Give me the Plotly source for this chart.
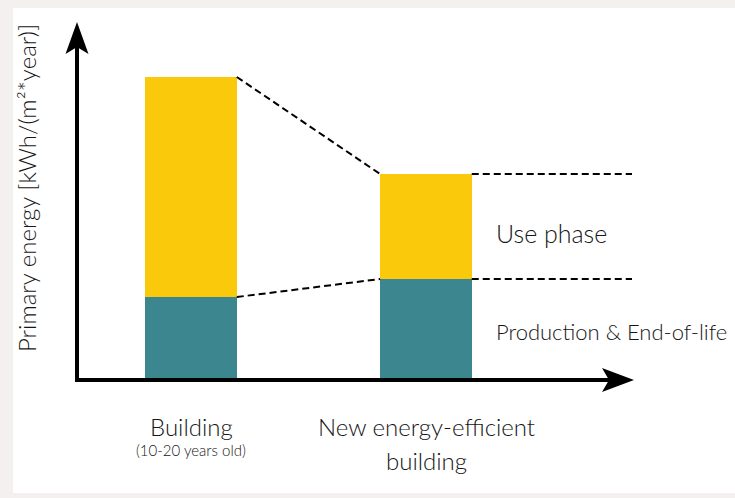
import plotly.graph_objects as go

categories = ["Building", "New energy-efficient building"]
production_eol = [83, 101]
use_phase = [220, 105]
bar_width = 0.39

W, H = 735, 498
L, R, T, B = 77, 103, 25, 118  # plot area 77..632 x, 25..380 y
PW, PH = W - L - R, H - T - B

def px(x, y):
    return (x - L) / PW, (H - B - y) / PH

teal = "#3b868f"
yellow = "#fbc90b"
font = "Lato"
txt = "#161616"

xs = list(range(len(categories)))
totals = [p + u for p, u in zip(production_eol, use_phase)]

fig = go.Figure()
fig.add_trace(go.Bar(x=xs, y=production_eol, width=bar_width, marker=dict(color=teal, line=dict(width=0)),
                     name="Production & End-of-life", hoverinfo="skip"))
fig.add_trace(go.Bar(x=xs, y=use_phase, width=bar_width, marker=dict(color=yellow, line=dict(width=0)),
                     name="Use phase", hoverinfo="skip"))

xmin = -0.485
xmax = 1.877
dash = dict(color="black", width=2, dash="7px,4px")
for series in (totals, production_eol):
    fig.add_trace(go.Scatter(x=[xs[0] + bar_width / 2, xs[1] - bar_width / 2], y=series, mode="lines",
                             line=dash, hoverinfo="skip", showlegend=False))
    fig.add_trace(go.Scatter(x=[xs[1] + bar_width / 2, xmax], y=[series[1], series[1]], mode="lines",
                             line=dash, hoverinfo="skip", showlegend=False, cliponaxis=False))

shapes = []
x0, y0 = px(13, 493)
x1, y1 = px(740, 8)
shapes.append(dict(type="rect", xref="paper", yref="paper", x0=x0, y0=y0, x1=x1, y1=y1,
                   fillcolor="white", line=dict(width=0), layer="below"))
ax0, ay0 = px(77, 382)
ax1, ay1 = px(77, 40)
shapes.append(dict(type="line", xref="paper", yref="paper", x0=ax0, y0=ay0, x1=ax1, y1=ay1,
                   line=dict(color="black", width=4)))
bx0, by0 = px(75, 380)
bx1, by1 = px(615, 380)
shapes.append(dict(type="line", xref="paper", yref="paper", x0=bx0, y0=by0, x1=bx1, y1=by1,
                   line=dict(color="black", width=4)))

def path(points):
    pts = [px(a, b) for a, b in points]
    return "M " + " L ".join(f"{a:.5f},{b:.5f}" for a, b in pts) + " Z"

shapes.append(dict(type="path", xref="paper", yref="paper",
                   path=path([(77, 22), (65.5, 54), (77, 47), (88.5, 54)]),
                   fillcolor="black", line=dict(width=0)))
shapes.append(dict(type="path", xref="paper", yref="paper",
                   path=path([(634, 380), (602, 368), (609, 380), (602, 392)]),
                   fillcolor="black", line=dict(width=0)))

annotations = []
def ann(xp, yp, text, size, xanchor="center", angle=0):
    x, y = px(xp, yp)
    annotations.append(dict(xref="paper", yref="paper", x=x, y=y, text=text, showarrow=False,
                            xanchor=xanchor, yanchor="middle", textangle=angle,
                            font=dict(family=font, size=size, color=txt, weight=300)))

ann(26, 188, "Primary energy [kWh/(m²*year)]", 24, angle=-90)
ann(494, 233, "Use phase", 25, xanchor="left")
ann(494, 331, "Production &amp; End-of-life", 22, xanchor="left")
ann(191, 426, categories[0], 24)
ann(191, 450, "(10-20 years old)", 15)
ann(426, 426, "New energy-efficient", 24)
ann(426, 461, "building", 24)

fig.update_layout(
    width=W, height=H, margin=dict(l=L, r=R, t=T, b=B, autoexpand=False),
    paper_bgcolor="#f4f0ef", plot_bgcolor="rgba(0,0,0,0)",
    barmode="stack", showlegend=False,
    xaxis=dict(range=[xmin, xmax], visible=False, fixedrange=True),
    yaxis=dict(range=[0, PH], visible=False, fixedrange=True),
    shapes=shapes, annotations=annotations,
)
fig.write_html("out.html", config={"displayModeBar": False},
               post_script="document.body.style.margin='0';document.body.style.overflow='hidden';")
